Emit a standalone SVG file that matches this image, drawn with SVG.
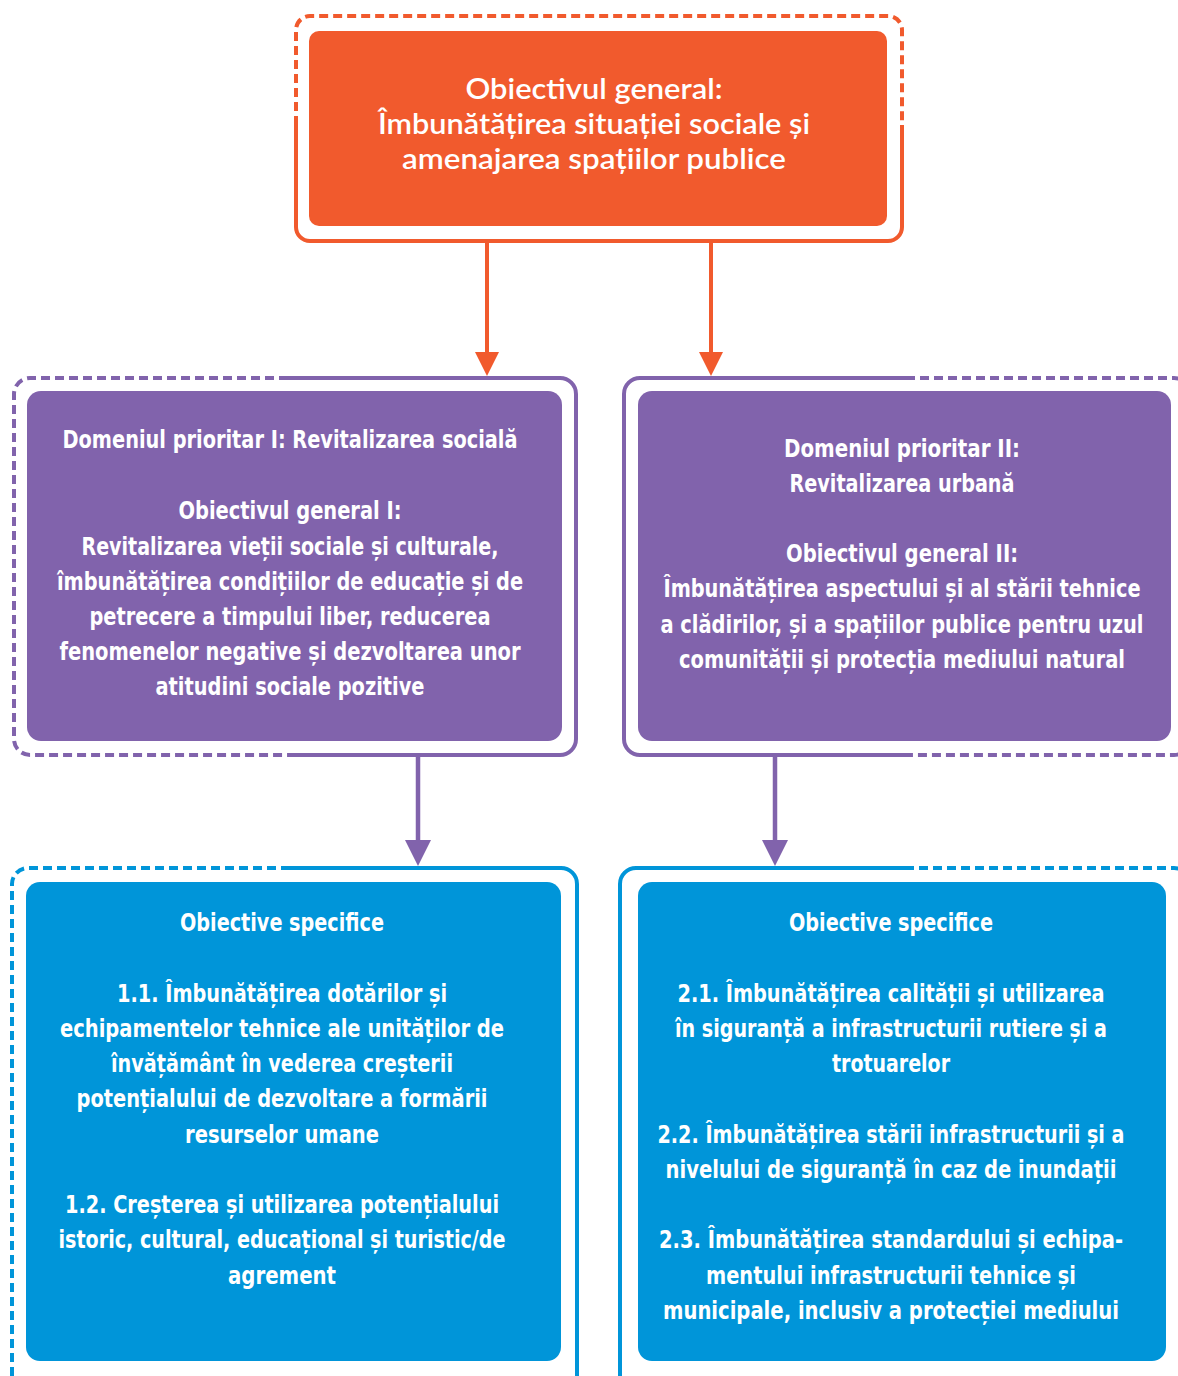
<svg xmlns="http://www.w3.org/2000/svg" width="1178" height="1376" viewBox="0 0 1178 1376">
<style>
.fo{fill:none;stroke:#F15A2D;stroke-width:4}
.fp{fill:none;stroke:#8163AC;stroke-width:4}
.fb{fill:none;stroke:#0095D9;stroke-width:4}
.d{stroke-dasharray:9 5}
.t{fill:#fff;text-anchor:middle;font-family:'DejaVu Sans Condensed','DejaVu Sans',sans-serif;font-stretch:condensed;font-weight:bold;font-size:24px}
.tt{fill:#fff;text-anchor:middle;font-family:Lato,'Open Sans',sans-serif;font-weight:600;font-size:28px}
</style>
<defs>
<marker id="ao" markerWidth="24" markerHeight="24" viewBox="0 0 24 24" refX="12" refY="24" orient="auto-start-reverse" markerUnits="userSpaceOnUse"><path d="M0,0 L24,0 L12,24 Z" fill="#F15A2D"/></marker>
</defs>
<rect width="1178" height="1376" fill="#fff"/>

<g id="top">
<path class="fo d" d="M296,125 V30 A14 14 0 0 1 310 16 H888 A14 14 0 0 1 902 30 V125"/>
<path class="fo" d="M296,125 V227 A14 14 0 0 0 310 241 H888 A14 14 0 0 0 902 227 V125"/>
<rect x="309" y="31" width="578" height="195" rx="10" fill="#F15A2D"/>
<text class="tt" x="594" y="99" textLength="257" lengthAdjust="spacingAndGlyphs">Obiectivul general:</text>
<text class="tt" x="594" y="134" textLength="432" lengthAdjust="spacingAndGlyphs">Îmbunătățirea situației sociale și</text>
<text class="tt" x="594" y="169" textLength="384" lengthAdjust="spacingAndGlyphs">amenajarea spațiilor publice</text>
</g>

<g id="domeniu1">
<path class="fp d" d="M288,378 H30 A16 16 0 0 0 14 394 V739 A16 16 0 0 0 30 755 H288"/>
<path class="fp" d="M288,378 H560 A16 16 0 0 1 576 394 V739 A16 16 0 0 1 560 755 H288"/>
<rect x="27" y="391" width="535" height="350" rx="14" fill="#8163AC"/>
<text class="t" x="290" y="448" textLength="455" lengthAdjust="spacingAndGlyphs">Domeniul prioritar I: Revitalizarea socială</text>
<text class="t" x="290" y="519" textLength="223" lengthAdjust="spacingAndGlyphs">Obiectivul general I:</text>
<text class="t" x="290" y="555" textLength="417" lengthAdjust="spacingAndGlyphs">Revitalizarea vieții sociale și culturale,</text>
<text class="t" x="290" y="590" textLength="466" lengthAdjust="spacingAndGlyphs">îmbunătățirea condițiilor de educație și de</text>
<text class="t" x="290" y="625" textLength="401" lengthAdjust="spacingAndGlyphs">petrecere a timpului liber, reducerea</text>
<text class="t" x="290" y="660" textLength="461" lengthAdjust="spacingAndGlyphs">fenomenelor negative și dezvoltarea unor</text>
<text class="t" x="290" y="695" textLength="269" lengthAdjust="spacingAndGlyphs">atitudini sociale pozitive</text>
</g>

<g id="domeniu2">
<path class="fp" d="M906,378 H640 A16 16 0 0 0 624 394 V739 A16 16 0 0 0 640 755 H906"/>
<path class="fp d" d="M906,378 H1174 A16 16 0 0 1 1190 394 V739 A16 16 0 0 1 1174 755 H906"/>
<rect x="638" y="391" width="533" height="350" rx="14" fill="#8163AC"/>
<text class="t" x="902" y="457" textLength="236" lengthAdjust="spacingAndGlyphs">Domeniul prioritar II:</text>
<text class="t" x="902" y="492" textLength="225" lengthAdjust="spacingAndGlyphs">Revitalizarea urbană</text>
<text class="t" x="902" y="562" textLength="232" lengthAdjust="spacingAndGlyphs">Obiectivul general II:</text>
<text class="t" x="902" y="597" textLength="477" lengthAdjust="spacingAndGlyphs">Îmbunătățirea aspectului și al stării tehnice</text>
<text class="t" x="902" y="633" textLength="483" lengthAdjust="spacingAndGlyphs">a clădirilor, și a spațiilor publice pentru uzul</text>
<text class="t" x="902" y="668" textLength="446" lengthAdjust="spacingAndGlyphs">comunității și protecția mediului natural</text>
</g>

<g id="specifice1">
<path class="fb d" d="M290,868 H28 A16 16 0 0 0 12 884 V1376"/>
<path class="fb" d="M290,868 H561 A16 16 0 0 1 577 884 V1376"/>
<rect x="26" y="882" width="535" height="479" rx="14" fill="#0095D9"/>
<text class="t" x="282" y="931" textLength="204" lengthAdjust="spacingAndGlyphs">Obiective specifice</text>
<text class="t" x="282" y="1002" textLength="330" lengthAdjust="spacingAndGlyphs">1.1. Îmbunătățirea dotărilor și</text>
<text class="t" x="282" y="1037" textLength="444" lengthAdjust="spacingAndGlyphs">echipamentelor tehnice ale unităților de</text>
<text class="t" x="282" y="1072" textLength="342" lengthAdjust="spacingAndGlyphs">învățământ în vederea creșterii</text>
<text class="t" x="282" y="1107" textLength="411" lengthAdjust="spacingAndGlyphs">potențialului de dezvoltare a formării</text>
<text class="t" x="282" y="1143" textLength="194" lengthAdjust="spacingAndGlyphs">resurselor umane</text>
<text class="t" x="282" y="1213" textLength="434" lengthAdjust="spacingAndGlyphs">1.2. Creșterea și utilizarea potențialului</text>
<text class="t" x="282" y="1248" textLength="447" lengthAdjust="spacingAndGlyphs">istoric, cultural, educațional și turistic/de</text>
<text class="t" x="282" y="1284" textLength="108" lengthAdjust="spacingAndGlyphs">agrement</text>
</g>

<g id="specifice2">
<path class="fb" d="M905,868 H636 A16 16 0 0 0 620 884 V1376"/>
<path class="fb d" d="M905,868 H1174 A16 16 0 0 1 1190 884 V1376"/>
<rect x="638" y="882" width="528" height="479" rx="14" fill="#0095D9"/>
<text class="t" x="891" y="931" textLength="204" lengthAdjust="spacingAndGlyphs">Obiective specifice</text>
<text class="t" x="891" y="1002" textLength="427" lengthAdjust="spacingAndGlyphs">2.1. Îmbunătățirea calității și utilizarea</text>
<text class="t" x="891" y="1037" textLength="432" lengthAdjust="spacingAndGlyphs">în siguranță a infrastructurii rutiere și a</text>
<text class="t" x="891" y="1072" textLength="118" lengthAdjust="spacingAndGlyphs">trotuarelor</text>
<text class="t" x="891" y="1143" textLength="467" lengthAdjust="spacingAndGlyphs">2.2. Îmbunătățirea stării infrastructurii și a</text>
<text class="t" x="891" y="1178" textLength="451" lengthAdjust="spacingAndGlyphs">nivelului de siguranță în caz de inundații</text>
<text class="t" x="891" y="1248" textLength="464" lengthAdjust="spacingAndGlyphs">2.3. Îmbunătățirea standardului și echipa-</text>
<text class="t" x="891" y="1284" textLength="370" lengthAdjust="spacingAndGlyphs">mentului infrastructurii tehnice și</text>
<text class="t" x="891" y="1319" textLength="456" lengthAdjust="spacingAndGlyphs">municipale, inclusiv a protecției mediului</text>
</g>

<g id="connectors">
<line x1="487" y1="243" x2="487" y2="354" stroke="#F15A2D" stroke-width="4"/>
<path d="M475,352 L499,352 L487,376 Z" fill="#F15A2D"/>
<line x1="711" y1="243" x2="711" y2="354" stroke="#F15A2D" stroke-width="4"/>
<path d="M699,352 L723,352 L711,376 Z" fill="#F15A2D"/>
<line x1="418" y1="757" x2="418" y2="842" stroke="#8163AC" stroke-width="4.5"/>
<path d="M405,840 L431,840 L418,866 Z" fill="#8163AC"/>
<line x1="775" y1="757" x2="775" y2="842" stroke="#8163AC" stroke-width="4.5"/>
<path d="M762,840 L788,840 L775,866 Z" fill="#8163AC"/>
</g>
</svg>
